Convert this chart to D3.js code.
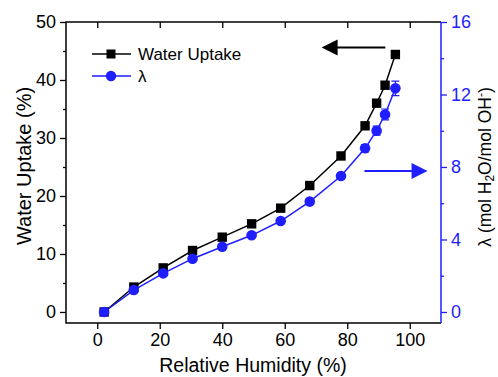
<!DOCTYPE html>
<html>
<head>
<meta charset="utf-8">
<script src="https://cdn.jsdelivr.net/npm/d3@7"></script>
<style>
  body { margin: 0; background: #fff; }
  svg { font-family: "Liberation Sans", Arial, sans-serif; }
</style>
</head>
<body>
<div id="chart"></div>
<script>
// relative humidity (%)
const rh = [2.2, 11.7, 21.1, 30.5, 40, 49.4, 58.7, 68, 78, 85.7, 89.4, 92.1, 95.4];
// water uptake (%)
const waterUptake = [0, 4.3, 7.6, 10.6, 12.9, 15.2, 17.9, 21.8, 26.9, 32.1, 36.0, 39.1, 44.4];
// lambda (mol H2O / mol OH-)
const lambda = [0, 1.21, 2.13, 2.94, 3.6, 4.23, 5.02, 6.09, 7.5, 9.03, 10.0, 10.9, 12.34];
const lambdaErr = [0.05, 0.05, 0.05, 0.05, 0.05, 0.1, 0.1, 0.1, 0.15, 0.2, 0.25, 0.3, 0.4];

const xTicks = [0, 20, 40, 60, 80, 100];
const yLeftTicks = [0, 10, 20, 30, 40, 50];
const yRightTicks = [0, 4, 8, 12, 16];

const width = 498, height = 377;
const blue = "#1e1eff";
const m = { left: 66, right: 441, top: 22, bottom: 323 };

const svg = d3.select("#chart").append("svg")
    .attr("width", width)
    .attr("height", height);

const x = d3.scaleLinear().domain([-10, 110]).range([m.left, m.right]);
const yL = d3.scaleLinear().domain([-1.9, 50]).range([m.bottom, m.top]);
const yR = d3.scaleLinear().domain([-0.608, 16]).range([m.bottom, m.top]);

// axes
const axisStyle = (g, color) => {
    g.select(".domain").remove();
    g.selectAll("line").attr("stroke", color).attr("stroke-width", 1.3);
    g.selectAll("text").attr("fill", color).style("font-size", "18px");
};

svg.append("g")
    .attr("transform", `translate(0,${m.bottom})`)
    .call(d3.axisBottom(x).tickValues(xTicks).tickSize(6).tickPadding(4))
    .call(g => axisStyle(g, "#000"));

svg.append("g")
    .attr("transform", `translate(0,${m.top})`)
    .call(d3.axisBottom(x).tickValues(xTicks).tickSize(6).tickFormat(""))
    .call(g => axisStyle(g, "#000"));

svg.append("g")
    .attr("transform", `translate(${m.left},0)`)
    .call(d3.axisLeft(yL).tickValues(d3.range(5, 50, 10)).tickSize(3).tickFormat(""))
    .call(g => axisStyle(g, "#000"));
svg.append("g")
    .attr("transform", `translate(${m.left},0)`)
    .call(d3.axisLeft(yL).tickValues(yLeftTicks).tickSize(6).tickPadding(4))
    .call(g => axisStyle(g, "#000"));

svg.append("g")
    .attr("transform", `translate(${m.right},0)`)
    .call(d3.axisRight(yR).tickValues(d3.range(2, 16, 4)).tickSize(3).tickFormat(""))
    .call(g => axisStyle(g, blue));
svg.append("g")
    .attr("transform", `translate(${m.right},0)`)
    .call(d3.axisRight(yR).tickValues(yRightTicks).tickSize(6).tickPadding(4))
    .call(g => axisStyle(g, blue));

// frame
svg.append("path")
    .attr("d", `M${m.right},${m.top}H${m.left}V${m.bottom}H${m.right}`)
    .attr("fill", "none").attr("stroke", "#000").attr("stroke-width", 1.5);
svg.append("line")
    .attr("x1", m.right).attr("x2", m.right)
    .attr("y1", m.top).attr("y2", m.bottom)
    .attr("stroke", blue).attr("stroke-width", 1.5);

// axis titles
svg.append("text")
    .attr("x", 253).attr("y", 372)
    .attr("text-anchor", "middle").style("font-size", "19.5px")
    .text("Relative Humidity (%)");

svg.append("text")
    .attr("transform", "translate(31,166) rotate(-90)")
    .attr("text-anchor", "middle").style("font-size", "20px")
    .text("Water Uptake (%)");

const rt = svg.append("text")
    .attr("transform", "translate(491,167) rotate(-90)")
    .attr("text-anchor", "middle").style("font-size", "17.5px");
rt.append("tspan").text("λ (mol H");
rt.append("tspan").attr("dy", 3).style("font-size", "12px").text("2");
rt.append("tspan").attr("dy", -3).text("O/mol OH");
rt.append("tspan").attr("dy", -6).style("font-size", "12px").text("-");
rt.append("tspan").attr("dy", 6).text(")");

// series
const wuData = rh.map((v, i) => ({ x: v, y: waterUptake[i] }));
const lamData = rh.map((v, i) => ({ x: v, y: lambda[i], e: lambdaErr[i] }));

svg.append("path")
    .datum(wuData)
    .attr("fill", "none").attr("stroke", "#000").attr("stroke-width", 1.5)
    .attr("d", d3.line().x(d => x(d.x)).y(d => yL(d.y)));

svg.append("path")
    .datum(lamData)
    .attr("fill", "none").attr("stroke", blue).attr("stroke-width", 1.5)
    .attr("d", d3.line().x(d => x(d.x)).y(d => yR(d.y)));

// error bars on lambda
const eb = svg.append("g").attr("stroke", blue).attr("stroke-width", 1.2);
eb.selectAll(".eb")
    .data(lamData)
    .join("path")
    .attr("d", d => {
        const cx = x(d.x), t = yR(d.y + d.e), b = yR(d.y - d.e);
        return `M${cx - 4},${t}H${cx + 4}M${cx},${t}V${b}M${cx - 4},${b}H${cx + 4}`;
    });

svg.selectAll(".sq")
    .data(wuData)
    .join("rect")
    .attr("x", d => x(d.x) - 4.7).attr("y", d => yL(d.y) - 4.7)
    .attr("width", 9.4).attr("height", 9.4)
    .attr("fill", "#000");

svg.selectAll(".ci")
    .data(lamData)
    .join("circle")
    .attr("cx", d => x(d.x)).attr("cy", d => yR(d.y))
    .attr("r", 5.3)
    .attr("fill", blue);

// legend
const legend = svg.append("g").attr("transform", "translate(92,54)");
legend.append("line").attr("x1", 0).attr("x2", 39).attr("stroke", "#000").attr("stroke-width", 1.5);
legend.append("rect").attr("x", 14.5).attr("y", -4.5).attr("width", 9).attr("height", 9).attr("fill", "#000");
legend.append("text").attr("x", 46).attr("y", 6).style("font-size", "17px").text("Water Uptake");
legend.append("line").attr("x1", 0).attr("x2", 39).attr("y1", 22).attr("y2", 22).attr("stroke", blue).attr("stroke-width", 1.5);
legend.append("circle").attr("cx", 19).attr("cy", 22).attr("r", 5.2).attr("fill", blue);
legend.append("text").attr("x", 46).attr("y", 28).style("font-size", "17px").text("λ");

// arrows pointing to each axis
function arrow(x0, x1, yPix, color) {
    const dir = Math.sign(x1 - x0);
    svg.append("line")
        .attr("x1", x0).attr("x2", x1 - dir * 14).attr("y1", yPix).attr("y2", yPix)
        .attr("stroke", color).attr("stroke-width", 2);
    svg.append("path")
        .attr("d", `M${x1},${yPix}L${x1 - dir * 16},${yPix - 8}L${x1 - dir * 16},${yPix + 8}Z`)
        .attr("fill", color);
}
arrow(x(92.2), x(71.8), yL(45.6), "#000");
arrow(x(85.5), x(105.7), yR(7.78), blue);
</script>
</body>
</html>
